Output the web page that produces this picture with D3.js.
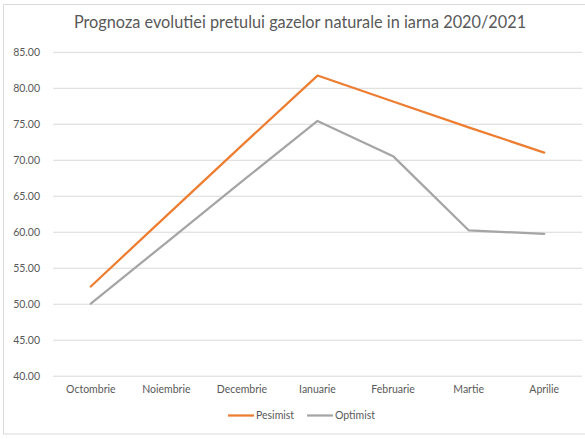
<!DOCTYPE html>
<html><head><meta charset="utf-8">
<script src="https://cdn.jsdelivr.net/npm/d3@7"></script>
<style>body{margin:0;background:#fff}svg{display:block}text{font-family:Lato,"Open Sans",sans-serif}</style>
</head><body>
<svg id="c" width="585" height="439"></svg>
<script>
const title = "Prognoza evolutiei pretului gazelor naturale in iarna 2020/2021";
const months = ["Octombrie","Noiembrie","Decembrie","Ianuarie","Februarie","Martie","Aprilie"];
const pesimist = [52.4, 62.2, 72.0, 81.7, 78.1, 74.5, 71.0];
const optimist = [50.0, 58.5, 67.0, 75.4, 70.5, 60.2, 59.7];
const yTicks = [40,45,50,55,60,65,70,75,80,85];
const seriesNames = ["Pesimist","Optimist"];
const colors = ["#ED7D31","#A5A5A5"];

const svg = d3.select("#c");
svg.append("rect").attr("x",3.5).attr("y",4.5).attr("width",600).attr("height",429.5)
  .attr("fill","#fff").attr("stroke","#d9d9d9");

const x = d3.scaleBand().domain(months).range([53,582]);
const y = d3.scaleLinear().domain([40,85]).range([375.7,51.8]);

svg.append("text").attr("x",300).attr("y",28).attr("text-anchor","middle")
  .attr("font-size",16.3).attr("fill","#595959").text(title);

const ya = svg.append("g").attr("transform","translate(53,0)")
  .call(d3.axisLeft(y).tickValues(yTicks).tickFormat(d3.format(".2f")).tickSize(-529).tickPadding(13));
ya.select(".domain").remove();
ya.selectAll("line").attr("stroke","#d9d9d9").attr("stroke-width",1);
ya.selectAll("text").attr("fill","#595959").attr("font-size",10.5).style("font-family","Lato,'Open Sans',sans-serif");

const xa = svg.append("g").attr("transform","translate(0,375.7)")
  .call(d3.axisBottom(x).tickSize(0).tickPadding(10));
xa.select(".domain").remove();
xa.selectAll("text").attr("fill","#595959").attr("font-size",10.5).style("font-family","Lato,'Open Sans',sans-serif");

const line = d3.line().x((d,i)=>x(months[i])+x.bandwidth()/2).y(d=>y(d));
[pesimist, optimist].forEach((s,k)=>{
  svg.append("path").attr("d",line(s)).attr("fill","none").attr("stroke",colors[k])
    .attr("stroke-width",2.25).attr("stroke-linejoin","round").attr("stroke-linecap","round");
});

const legX = [228, 307];
seriesNames.forEach((n,k)=>{
  const g = svg.append("g").attr("transform",`translate(${legX[k]},415.5)`);
  g.append("line").attr("x1",0).attr("x2",26).attr("stroke",colors[k]).attr("stroke-width",2.25);
  g.append("text").attr("x",28).attr("dy","0.35em").attr("font-size",10.5).attr("fill","#595959").text(n);
});
</script>
</body></html>
